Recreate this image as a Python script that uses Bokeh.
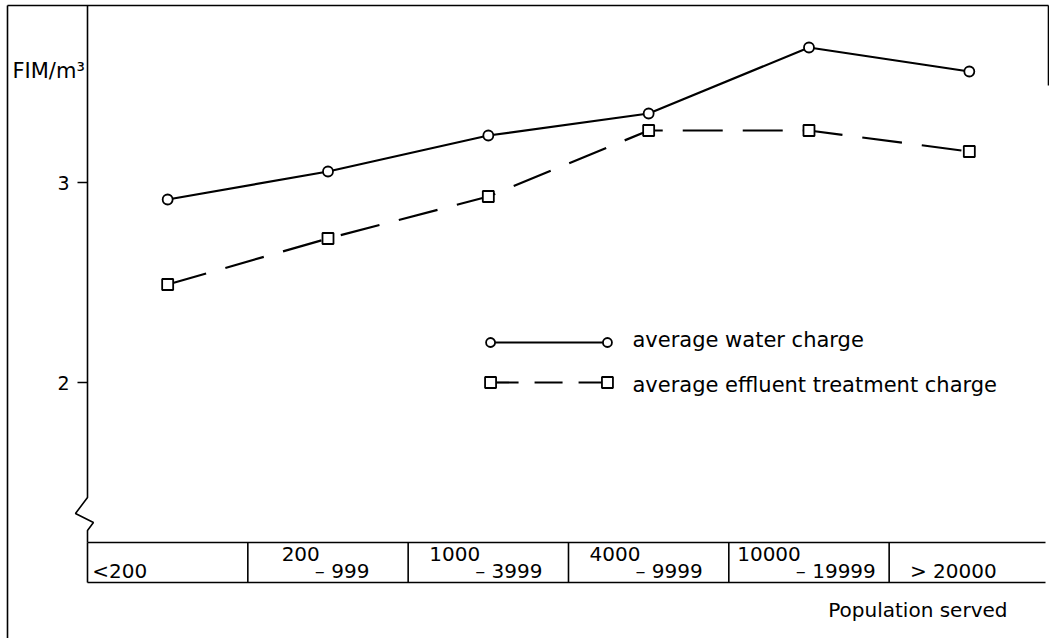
from bokeh.plotting import figure
from bokeh.models import Range1d, LinearAxis, FixedTicker
from bokeh.core.properties import value
from bokeh.embed import file_html
from bokeh.resources import INLINE

# ---------------- data ----------------
categories = ["<200", "200–999", "1000–3999", "4000–9999", "10000–19999", ">20000"]
cat_upper = ["", "200", "1000", "4000", "10000", ""]
cat_lower = ["<200", "– 999", "– 3999", "– 9999", "– 19999", "> 20000"]
water_charge = [2.915, 3.055, 3.235, 3.345, 3.675, 3.555]
effluent_charge = [2.49, 2.72, 2.93, 3.26, 3.26, 3.155]
y_ticks = [2, 3]
y_label = "FIM/m³"
x_label = "Population served"
legend_labels = ["average water charge", "average effluent treatment charge"]

# ---------------- layout ----------------
FONT = value("DejaVu Sans")
W, H = 1049, 638
PX_X = 160.33          # pixels per category
PX_Y = 200.0           # pixels per FIM/m3
x0 = -87 / PX_X
x1 = x0 + W / PX_X
y1 = 3 + 182 / PX_Y
y0 = y1 - H / PX_Y
dx = 1 / PX_X
dy = 1 / PX_Y
TXT_UP = 7 * dy        # baseline correction for text glyphs

p = figure(width=W, height=H, output_backend="svg", toolbar_location=None,
           x_range=Range1d(x0, x1), y_range=Range1d(y0, y1),
           x_axis_location=None, y_axis_location=None,
           min_border=0, min_border_left=0, min_border_right=0,
           min_border_top=0, min_border_bottom=0)
p.grid.visible = False
p.outline_line_color = None
p.background_fill_color = "white"
p.border_fill_color = "white"

ink = "#000000"

# outer page frame
p.line([x0 + 7 * dx, x0 + 7 * dx], [y0, y1 - 5 * dy], line_color=ink, line_width=1.6)
p.line([x0 + 7 * dx, x0 + 1048 * dx], [y1 - 5 * dy, y1 - 5 * dy], line_color=ink, line_width=1.6)
p.line([x0 + 1048 * dx, x0 + 1048 * dx], [y1 - 5 * dy, 3.485], line_color=ink, line_width=1.6)

# y axis line with break
p.line([0, 0, -0.075, 0.037, 0, 0], [y1 - 5 * dy, 1.425, 1.345, 1.30, 1.26, 1.2],
       line_color=ink, line_width=1.6)

yaxis = LinearAxis(fixed_location=0, ticker=FixedTicker(ticks=y_ticks))
yaxis.axis_line_color = None
yaxis.major_tick_in = 0
yaxis.major_tick_out = 10
yaxis.major_tick_line_width = 1.6
yaxis.major_tick_line_color = ink
yaxis.minor_tick_line_color = None
yaxis.major_label_standoff = 8
yaxis.major_label_text_font = "DejaVu Sans"
yaxis.major_label_text_font_size = "19px"
yaxis.major_label_text_color = ink
p.add_layout(yaxis, "left")

p.text(x=[-0.468], y=[3.525 + TXT_UP], text=[y_label], text_font=FONT, text_font_size="21px",
       text_color=ink, text_baseline="alphabetic", text_align="left")

# category boxes
n = len(categories)
x_box_end = x0 + 1045 * dx
p.segment(x0=[0, 0], y0=[1.2, 1.0], x1=[x_box_end, x_box_end], y1=[1.2, 1.0],
          line_color=ink, line_width=1.6)
p.segment(x0=list(range(n)), y0=[1.0] * n, x1=list(range(n)), y1=[1.2] * n,
          line_color=ink, line_width=1.6)

up_x, up_t, lo_x, lo_t = [], [], [], []
for i, (u, l) in enumerate(zip(cat_upper, cat_lower)):
    if u:
        up_x.append(i + 0.449)
        up_t.append(u)
        lo_x.append(i + 0.418)
    else:
        lo_x.append(i + (0.03 if i == 0 else 0.13))
    lo_t.append(l)
p.text(x=up_x, y=[1.11 + TXT_UP] * len(up_x), text=up_t, text_font=FONT, text_font_size="20px",
       text_color=ink, text_align="right", text_baseline="alphabetic")
p.text(x=lo_x, y=[1.025 + TXT_UP] * len(lo_x), text=lo_t, text_font=FONT, text_font_size="20px",
       text_color=ink, text_align="left", text_baseline="alphabetic")

p.text(x=[5.738], y=[0.83 + TXT_UP], text=[x_label], text_font=FONT, text_font_size="20px",
       text_color=ink, text_align="right", text_baseline="alphabetic")

# data series
xs = [i + 0.5 for i in range(n)]
p.line(xs, water_charge, line_color=ink, line_width=2.2)
p.line(xs, effluent_charge, line_color=ink, line_width=2.2, line_dash="40 20")
p.scatter(xs, water_charge, marker="circle", size=10, fill_color="white",
          line_color=ink, line_width=1.8)
p.scatter(xs, effluent_charge, marker="square", size=11, fill_color="white",
          line_color=ink, line_width=1.8)

# hand-drawn legend
lx = [2.514, 3.243]
p.line(lx, [2.2, 2.2], line_color=ink, line_width=2.2)
p.scatter(lx, [2.2, 2.2], marker="circle", size=9, fill_color="white", line_color=ink, line_width=1.8)
p.line(lx, [2.0, 2.0], line_color=ink, line_width=2.2, line_dash="28 16")
p.scatter(lx, [2.0, 2.0], marker="square", size=11, fill_color="white", line_color=ink, line_width=1.8)
p.text(x=[3.399, 3.399], y=[2.18 + TXT_UP, 1.955 + TXT_UP], text=legend_labels, text_font=FONT,
       text_font_size="21px", text_color=ink, text_align="left", text_baseline="alphabetic")

open("out.html", "w").write(file_html(p, INLINE))
